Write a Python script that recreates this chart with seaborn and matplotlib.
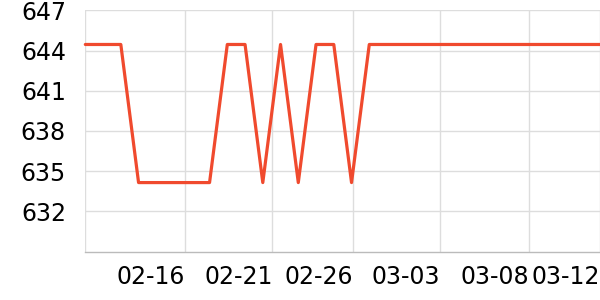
import matplotlib
matplotlib.use("Agg")
import matplotlib.pyplot as plt
import matplotlib.dates as mdates
import seaborn as sns
import pandas as pd
import numpy as np

# Data
dates = pd.date_range("2025-02-11", "2025-03-12", freq="D")
HIGH, LOW = 644.45, 634.15
values = [HIGH, HIGH, HIGH, LOW, LOW, LOW, LOW, LOW, HIGH, HIGH,
          LOW, HIGH, LOW, HIGH, HIGH, LOW, HIGH, HIGH, HIGH, HIGH,
          HIGH, HIGH, HIGH, HIGH, HIGH, HIGH, HIGH, HIGH, HIGH, HIGH]
y_ticks = [632, 635, 638, 641, 644, 647]
x_tick_dates = ["2025-02-11 00:00", "2025-02-16 15:00", "2025-02-21 13:00",
                "2025-02-26 02:30", "2025-03-03 00:00", "2025-03-08 00:00",
                "2025-03-12 00:00"]
x_tick_labels = ["", "02-16", "02-21", "02-26", "03-03", "03-08", "03-12"]

df = pd.DataFrame({"date": dates, "value": values})

sns.set_style("white")
plt.rcParams["font.family"] = ["DejaVu Sans"]

fig = plt.figure(figsize=(6, 3), dpi=100)
ax = fig.add_axes([0.1422, 0.159, 0.8578, 0.8067])

sns.lineplot(data=df, x="date", y="value", ax=ax, color="#f04a2e",
             linewidth=2.3, clip_on=False)

ax.set_xlim(dates[0], dates[-1])
ax.set_ylim(628.95, 647)
ax.set_yticks(y_ticks)
ax.set_yticklabels([str(v) for v in y_ticks])
ax.set_xticks(pd.to_datetime(x_tick_dates))
ax.set_xticklabels(x_tick_labels, ha="right")

ax.grid(True, color="#dddddd", linewidth=1)
ax.set_axisbelow(True)
for s in ["top", "right", "left"]:
    ax.spines[s].set_visible(False)
ax.spines["bottom"].set_color("#bbbbbb")
ax.spines["bottom"].set_linewidth(1)

ax.tick_params(axis="y", length=0, pad=14, labelsize=17, labelcolor="#000000")
ax.tick_params(axis="x", length=3, width=1, color="#bbbbbb", pad=6,
               labelsize=17, labelcolor="#000000", direction="out")
ax.set_xlabel("")
ax.set_ylabel("")

fig.savefig("out.png", dpi=100)
